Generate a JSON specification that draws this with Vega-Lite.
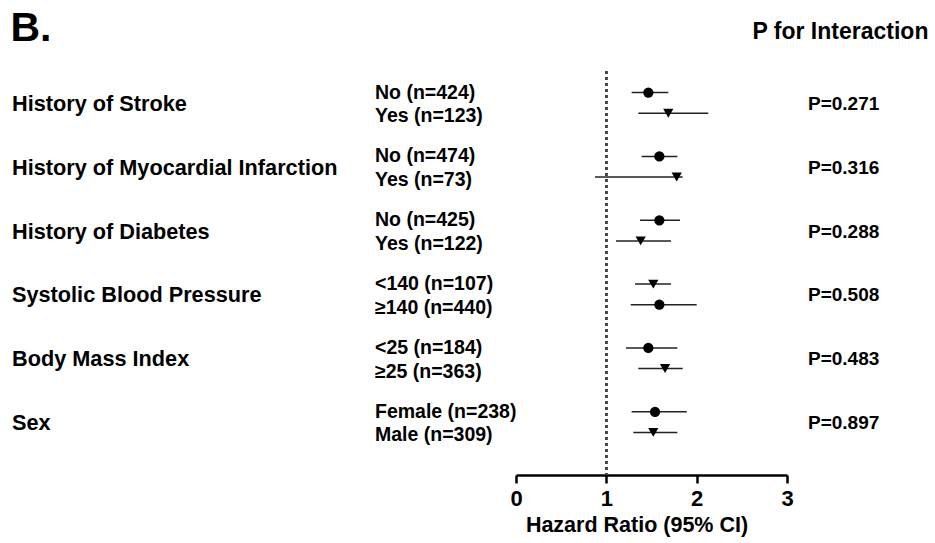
{
  "$schema": "https://vega.github.io/schema/vega-lite/v6.json",
  "width": 271,
  "height": 404,
  "autosize": {"type": "none"},
  "padding": {"left": 516, "top": 71, "right": 148, "bottom": 68},
  "background": "white",
  "config": {
    "view": {"stroke": null},
    "font": "Liberation Sans",
    "axis": {"grid": false}
  },
  "datasets": {
    "rows": [
      {"group": "History of Stroke", "level": 1, "label": "No (n=424)", "hr": 1.465, "lo": 1.28, "hi": 1.686, "symbol": "dot"},
      {"group": "History of Stroke", "level": 2, "label": "Yes (n=123)", "hr": 1.686, "lo": 1.354, "hi": 2.129, "symbol": "tri"},
      {"group": "History of Myocardial Infarction", "level": 1, "label": "No (n=474)", "hr": 1.587, "lo": 1.391, "hi": 1.786, "symbol": "dot"},
      {"group": "History of Myocardial Infarction", "level": 2, "label": "Yes (n=73)", "hr": 1.779, "lo": 0.875, "hi": 1.845, "symbol": "tri"},
      {"group": "History of Diabetes", "level": 1, "label": "No (n=425)", "hr": 1.587, "lo": 1.373, "hi": 1.816, "symbol": "dot"},
      {"group": "History of Diabetes", "level": 2, "label": "Yes (n=122)", "hr": 1.38, "lo": 1.107, "hi": 1.716, "symbol": "tri"},
      {"group": "Systolic Blood Pressure", "level": 1, "label": "<140 (n=107)", "hr": 1.52, "lo": 1.317, "hi": 1.716, "symbol": "tri"},
      {"group": "Systolic Blood Pressure", "level": 2, "label": "≥140 (n=440)", "hr": 1.587, "lo": 1.27, "hi": 2.0, "symbol": "dot"},
      {"group": "Body Mass Index", "level": 1, "label": "<25 (n=184)", "hr": 1.465, "lo": 1.218, "hi": 1.786, "symbol": "dot"},
      {"group": "Body Mass Index", "level": 2, "label": "≥25 (n=363)", "hr": 1.65, "lo": 1.354, "hi": 1.845, "symbol": "tri"},
      {"group": "Sex", "level": 1, "label": "Female (n=238)", "hr": 1.539, "lo": 1.28, "hi": 1.89, "symbol": "dot"},
      {"group": "Sex", "level": 2, "label": "Male (n=309)", "hr": 1.52, "lo": 1.299, "hi": 1.786, "symbol": "tri"}
    ],
    "groups": [
      {"group": "History of Stroke", "p": "P=0.271"},
      {"group": "History of Myocardial Infarction", "p": "P=0.316"},
      {"group": "History of Diabetes", "p": "P=0.288"},
      {"group": "Systolic Blood Pressure", "p": "P=0.508"},
      {"group": "Body Mass Index", "p": "P=0.483"},
      {"group": "Sex", "p": "P=0.897"}
    ]
  },
  "layer": [
    {
      "data": {"name": "groups"},
      "mark": {"type": "rule", "color": "#444444", "strokeDash": [3, 3], "strokeWidth": 2},
      "encoding": {
        "x": {"datum": 1, "type": "quantitative", "axis": null}
      }
    },
    {
      "data": {"name": "rows"},
      "mark": {"type": "rule", "color": "#222222", "strokeWidth": 1.5},
      "encoding": {
        "x": {
          "field": "lo", "type": "quantitative",
          "scale": {"domain": [0, 3], "nice": false, "zero": false},
          "axis": {
            "orient": "top", "title": "P for Interaction", "labels": false, "ticks": false, "domain": false,
            "titleX": 236, "titleY": -33, "titleAlign": "left", "titleBaseline": "alphabetic",
            "titleFontSize": 23, "titleFontWeight": "bold", "titleColor": "black", "titleFont": "Liberation Sans"
          }
        },
        "x2": {"field": "hi"},
        "y": {
          "field": "group", "type": "nominal",
          "scale": {
            "domain": ["History of Stroke", "History of Myocardial Infarction", "History of Diabetes", "Systolic Blood Pressure", "Body Mass Index", "Sex"],
            "paddingInner": 0, "paddingOuter": 0.1645, "align": 0
          },
          "axis": {
            "orient": "left", "labels": false, "ticks": false, "domain": false,
            "title": "B.", "titleAngle": 0, "titleX": -506, "titleY": -31, "titleAlign": "left", "titleBaseline": "alphabetic",
            "titleFontSize": 41, "titleFontWeight": "bold", "titleColor": "black", "titleFont": "Liberation Sans"
          }
        },
        "yOffset": {"field": "level", "type": "nominal", "scale": {"paddingInner": 0, "paddingOuter": 0.55}}
      }
    },
    {
      "data": {"name": "rows"},
      "mark": {"type": "point", "filled": true, "color": "black", "opacity": 1, "size": 105},
      "encoding": {
        "x": {
          "field": "hr", "type": "quantitative",
          "axis": {
            "orient": "bottom", "values": [0, 1, 2, 3], "format": "d",
            "domainColor": "black", "domainWidth": 2.5, "tickColor": "black", "tickWidth": 2.5, "tickSize": 8,
            "labelFontSize": 22, "labelFontWeight": "bold", "labelColor": "black", "labelFont": "Liberation Sans",
            "labelPadding": 5, "labelFlush": false, "labelOverlap": false,
            "title": "Hazard Ratio (95% CI)", "titleFontSize": 21.5, "titleFontWeight": "bold", "titleColor": "black",
            "titleFont": "Liberation Sans", "titleX": 120.5, "titleY": 56, "titleAlign": "center", "titleBaseline": "alphabetic"
          }
        },
        "y": {"field": "group", "type": "nominal", "axis": null},
        "yOffset": {"field": "level", "type": "nominal"},
        "shape": {"field": "symbol", "type": "nominal", "scale": {"domain": ["dot", "tri"], "range": ["circle", "triangle-down"]}, "legend": null}
      }
    },
    {
      "data": {"name": "rows"},
      "transform": [{"filter": "datum.level == 1"}],
      "mark": {"type": "text", "align": "left", "baseline": "middle", "fontSize": 19.5, "fontWeight": "bold", "font": "Liberation Sans", "color": "black", "dy": 0},
      "encoding": {
        "x": {"datum": -1.561, "type": "quantitative", "axis": null},
        "y": {"field": "group", "type": "nominal", "axis": null},
        "yOffset": {"field": "level", "type": "nominal"},
        "text": {"field": "label"}
      }
    },
    {
      "data": {"name": "rows"},
      "transform": [{"filter": "datum.level == 2"}],
      "mark": {"type": "text", "align": "left", "baseline": "middle", "fontSize": 19.5, "fontWeight": "bold", "font": "Liberation Sans", "color": "black", "dy": 3},
      "encoding": {
        "x": {"datum": -1.561, "type": "quantitative", "axis": null},
        "y": {"field": "group", "type": "nominal", "axis": null},
        "yOffset": {"field": "level", "type": "nominal"},
        "text": {"field": "label"}
      }
    },
    {
      "data": {"name": "groups"},
      "mark": {"type": "text", "align": "left", "baseline": "middle", "fontSize": 21.7, "fontWeight": "bold", "font": "Liberation Sans", "color": "black", "dy": 1},
      "encoding": {
        "x": {"datum": -5.579, "type": "quantitative", "axis": null},
        "y": {"field": "group", "type": "nominal", "axis": null},
        "text": {"field": "group"}
      }
    },
    {
      "data": {"name": "groups"},
      "mark": {"type": "text", "align": "left", "baseline": "middle", "fontSize": 19, "fontWeight": "bold", "font": "Liberation Sans", "color": "black", "dy": 1},
      "encoding": {
        "x": {"datum": 3.232, "type": "quantitative", "axis": null},
        "y": {"field": "group", "type": "nominal", "axis": null},
        "text": {"field": "p"}
      }
    }
  ],
  "resolve": {"axis": {"x": "independent", "y": "independent"}}
}
